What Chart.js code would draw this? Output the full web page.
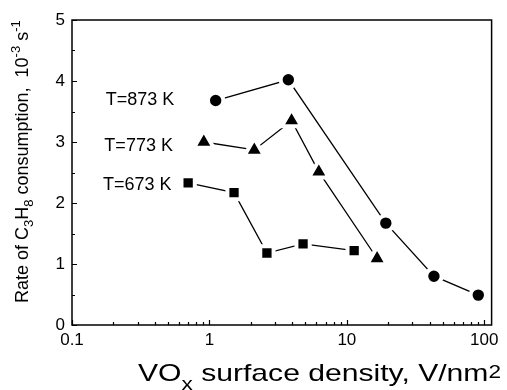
<!DOCTYPE html>
<html>
<head>
<meta charset="utf-8">
<script src="https://cdn.jsdelivr.net/npm/chart.js@4.4.1/dist/chart.umd.min.js"></script>
<style>
  html, body { margin: 0; padding: 0; background: #fff; }
  #wrap { width: 507px; height: 390px; }
</style>
</head>
<body>
<div id="wrap"><canvas id="c" width="507" height="390"></canvas></div>
<script>
// ---- data ----
const xTickValues = [0.1, 1, 10, 100];
const xTickLabels = ['0.1', '1', '10', '100'];
const yTickValues = [0, 1, 2, 3, 4, 5];
const yTickLabels = ['0', '1', '2', '3', '4', '5'];

const seriesNames = ['T=873 K', 'T=773 K', 'T=673 K'];

const densityT873 = [1.11, 3.75, 19.2, 43.0, 90.4];
const rateT873    = [3.68, 4.02, 1.67, 0.80, 0.49];

const densityT773 = [0.91, 2.12, 3.96, 6.25, 16.6];
const rateT773    = [3.00, 2.87, 3.35, 2.51, 1.09];

const densityT673 = [0.70, 1.51, 2.62, 4.80, 11.3];
const rateT673    = [2.33, 2.17, 1.18, 1.33, 1.22];

// annotation anchor (data coordinates) for each series label
const labelDensity = [0.176, 0.172, 0.168];
const labelRate    = [3.68, 2.93, 2.30];

const xMin = 0.1, xMax = 113, yMin = 0, yMax = 5;

// ---- build ----
function pts(xs, ys) { return xs.map((x, i) => ({ x: x, y: ys[i] })); }

const FONT = "'Liberation Sans', Arial, sans-serif";

const commonDs = {
  showLine: true,
  borderColor: '#000',
  borderWidth: 1.3,
  backgroundColor: '#000',
  pointBackgroundColor: '#000',
  pointBorderColor: '#fff',
  pointBorderWidth: 4,
  tension: 0
};

const datasets = [
  Object.assign({}, commonDs, { label: seriesNames[0], data: pts(densityT873, rateT873), pointStyle: 'circle', pointRadius: 7.7 }),
  Object.assign({}, commonDs, { label: seriesNames[1], data: pts(densityT773, rateT773), pointStyle: 'triangle', pointRadius: 11.4 }),
  Object.assign({}, commonDs, { label: seriesNames[2], data: pts(densityT673, rateT673), pointStyle: 'rect', pointRadius: 9.4 })
];

function measureRich(ctx, segs) {
  let w = 0;
  segs.forEach(s => { ctx.font = s.size + 'px ' + FONT; w += ctx.measureText(s.t).width; });
  return w;
}
function drawRich(ctx, segs, x, y) {
  let cx = x;
  segs.forEach(s => {
    ctx.font = s.size + 'px ' + FONT;
    ctx.fillText(s.t, cx, y + (s.dy || 0));
    cx += ctx.measureText(s.t).width;
  });
  return cx - x;
}

const framePlugin = {
  id: 'frameTicks',
  afterDatasetsDraw(chart) {
    const ctx = chart.ctx;
    const a = chart.chartArea;
    const xs = chart.scales.x, ys = chart.scales.y;
    ctx.save();
    ctx.strokeStyle = '#000';
    ctx.lineWidth = 1.5;
    ctx.strokeRect(a.left, a.top, a.right - a.left, a.bottom - a.top);
    ctx.lineWidth = 1.2;
    ctx.beginPath();
    for (let v = yMin; v <= yMax + 1e-9; v += 0.5) {
      const py = Math.round(ys.getPixelForValue(v)) + 0.5;
      const major = Math.abs(v - Math.round(v)) < 1e-9;
      const len = major ? 5 : 3;
      ctx.moveTo(a.left, py); ctx.lineTo(a.left + len, py);
    }
    for (let d = -1; d <= 2; d++) {
      for (let m = 1; m <= 9; m++) {
        const v = m * Math.pow(10, d);
        if (v < xMin - 1e-9 || v > xMax) continue;
        const px = Math.round(xs.getPixelForValue(v)) + 0.5;
        const len = (m === 1) ? 5 : 3;
        ctx.moveTo(px, a.bottom); ctx.lineTo(px, a.bottom - len);
      }
    }
    ctx.stroke();
    ctx.restore();
  },
  afterDraw(chart) {
    const ctx = chart.ctx;
    const xs = chart.scales.x, ys = chart.scales.y;
    ctx.save();
    ctx.fillStyle = '#000';
    ctx.textBaseline = 'middle';
    ctx.textAlign = 'left';
    ctx.font = '18px ' + FONT;
    for (let i = 0; i < seriesNames.length; i++) {
      ctx.fillText(seriesNames[i], xs.getPixelForValue(labelDensity[i]), ys.getPixelForValue(labelRate[i]));
    }
    ctx.textBaseline = 'alphabetic';
    // x axis title, stretched horizontally like the reference
    const xt = [
      { t: 'VO', size: 24 },
      { t: 'x', size: 18, dy: 9 },
      { t: ' surface density, V/nm', size: 24 },
      { t: '2', size: 18, dy: -3 }
    ];
    const natural = measureRich(ctx, xt);
    const sx = (501 - 138) / natural;
    ctx.save();
    ctx.translate(138, 381);
    ctx.scale(sx, 1);
    drawRich(ctx, xt, 0, 0);
    ctx.restore();
    // y axis title (rotated)
    ctx.save();
    ctx.translate(28, 303);
    ctx.rotate(-Math.PI / 2);
    drawRich(ctx, [
      { t: 'Rate of C', size: 18 },
      { t: '3', size: 13, dy: 5 },
      { t: 'H', size: 18 },
      { t: '8', size: 13, dy: 5 },
      { t: ' consumption,  10', size: 18 },
      { t: '-3', size: 13, dy: -8 },
      { t: ' s', size: 18 },
      { t: '-1', size: 13, dy: -8 }
    ], 0, 0);
    ctx.restore();
    ctx.restore();
  }
};

new Chart(document.getElementById('c'), {
  type: 'scatter',
  data: { datasets: datasets },
  plugins: [framePlugin],
  options: {
    responsive: false,
    animation: false,
    events: [],
    layout: { padding: { top: 20, right: 9, left: 0, bottom: 0 } },
    plugins: { legend: { display: false }, tooltip: { enabled: false }, title: { display: false } },
    scales: {
      x: {
        type: 'logarithmic',
        min: xMin, max: xMax,
        grid: { display: false, drawTicks: false },
        border: { display: false },
        afterBuildTicks(s) { s.ticks = xTickValues.map(v => ({ value: v })); },
        afterFit(s) { s.height = 65; },
        ticks: {
          color: '#000', padding: 5, maxRotation: 0, autoSkip: false,
          font: { family: FONT, size: 17 },
          callback: (v) => { const i = xTickValues.indexOf(v); return i >= 0 ? xTickLabels[i] : ''; }
        }
      },
      y: {
        type: 'linear',
        min: yMin, max: yMax,
        grid: { display: false, drawTicks: false },
        border: { display: false },
        afterBuildTicks(s) { s.ticks = yTickValues.map(v => ({ value: v })); },
        afterFit(s) { s.width = 72; },
        ticks: {
          color: '#000', padding: 7, autoSkip: false,
          font: { family: FONT, size: 17 },
          callback: (v) => { const i = yTickValues.indexOf(v); return i >= 0 ? yTickLabels[i] : ''; }
        }
      }
    }
  }
});
</script>
</body>
</html>
